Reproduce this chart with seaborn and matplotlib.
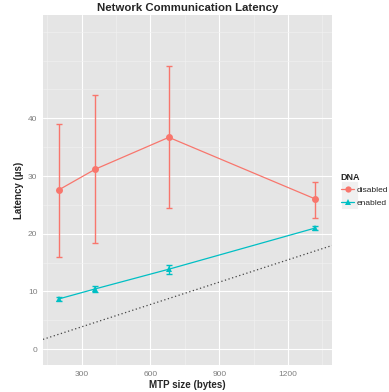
import numpy as np
import pandas as pd
import matplotlib
matplotlib.use('Agg')
import matplotlib.pyplot as plt
from matplotlib.lines import Line2D
from matplotlib.patches import Rectangle
import seaborn as sns

# Data
mtp_size = [200, 360, 680, 1320]
disabled_mean = [27.6, 31.2, 36.7, 26.0]
disabled_low = [16.0, 18.4, 24.4, 22.8]
disabled_high = [39.0, 44.0, 49.0, 29.0]
enabled_mean = [8.7, 10.45, 13.85, 21.0]
enabled_low = [8.3, 9.9, 13.0, 20.7]
enabled_high = [9.1, 11.0, 14.65, 21.3]
ref_intercept = 0.0
ref_slope = 0.0129
groups = ['disabled', 'enabled']
palette = {'disabled': '#F8766D', 'enabled': '#00BFC4'}
markers = {'disabled': 'o', 'enabled': '^'}

df = pd.DataFrame({
    'mtp': mtp_size * 2,
    'latency': disabled_mean + enabled_mean,
    'low': disabled_low + enabled_low,
    'high': disabled_high + enabled_high,
    'DNA': ['disabled'] * 4 + ['enabled'] * 4,
})

sns.set_style('white')
plt.rcParams['font.family'] = ['Liberation Sans', 'DejaVu Sans']

W, H = 389, 392
fig = plt.figure(figsize=(W / 100, H / 100), dpi=100)
ax = fig.add_axes([43 / W, 1 - 365 / H, (332 - 43) / W, (365 - 15) / H])
ax.set_facecolor('#E5E5E5')

# grid
ax.set_xlim(131, 1392)
ax.set_ylim(-2.75, 57.9)
ax.set_xticks([300, 600, 900, 1200])
ax.set_yticks([0, 10, 20, 30, 40])
ax.set_xticks([150, 450, 750, 1050, 1350], minor=True)
ax.set_yticks([5, 15, 25, 35, 45, 50, 55], minor=True)
ax.grid(which='major', color='white', linewidth=0.8)
ax.grid(which='minor', color='#F2F2F2', linewidth=0.4)
ax.set_axisbelow(True)
for s in ax.spines.values():
    s.set_visible(False)

# reference line
ax.axline((0, ref_intercept), slope=ref_slope, color='#444444',
          linestyle=(0, (1, 2)), linewidth=0.9, zorder=2)

# error bars
for g in groups:
    sub = df[df['DNA'] == g]
    ax.errorbar(sub['mtp'], sub['latency'],
                yerr=[sub['latency'] - sub['low'], sub['high'] - sub['latency']],
                fmt='none', ecolor=palette[g], elinewidth=1.0, capsize=2.2,
                capthick=1.0, zorder=3)

sns.lineplot(data=df, x='mtp', y='latency', hue='DNA', style='DNA',
             palette=palette, markers=markers, dashes=False, linewidth=0.9,
             markersize=5, markeredgewidth=0, ax=ax, legend=False, zorder=4)

ax.tick_params(axis='both', which='major', colors='#7F7F7F', labelsize=6,
               length=2.5, width=0.6, pad=1.5)
ax.tick_params(axis='both', which='minor', length=0)
ax.set_xlabel('MTP size (bytes)', fontsize=7, fontweight='bold', labelpad=2)
ax.set_ylabel('Latency (µs)', fontsize=7, fontweight='bold', labelpad=3)
ax.set_title('Network Communication Latency', fontsize=8.2, fontweight='bold', pad=3)

# legend
key_bg = Rectangle((341 / W, 1 - 209 / H), 17 / W, 28 / H,
                   transform=fig.transFigure, facecolor='#F0F0F0',
                   edgecolor='white', linewidth=0.6, zorder=1)
fig.add_artist(key_bg)
handles = [Line2D([0], [0], color=palette[g], marker=markers[g], markersize=4.5,
                  markeredgewidth=0, linewidth=0.9) for g in groups]
leg = fig.legend(handles, groups, title='DNA', loc='upper left',
                 bbox_to_anchor=(335 / W, 1 - 167 / H), frameon=False,
                 fontsize=6, title_fontsize=6.5, handlelength=1.6,
                 handletextpad=0.3, labelspacing=0.55, borderpad=0.2)
leg.get_title().set_fontweight('bold')
leg._legend_box.align = 'left'
leg.set_zorder(2)

fig.savefig('out.png', dpi=100, facecolor='white')
